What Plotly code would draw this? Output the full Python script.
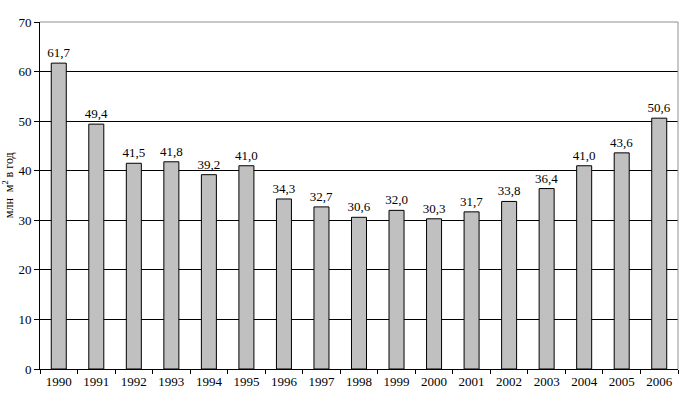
import plotly.graph_objects as go

years = ["1990", "1991", "1992", "1993", "1994", "1995", "1996", "1997", "1998",
         "1999", "2000", "2001", "2002", "2003", "2004", "2005", "2006"]
values = [61.7, 49.4, 41.5, 41.8, 39.2, 41.0, 34.3, 32.7, 30.6,
          32.0, 30.3, 31.7, 33.8, 36.4, 41.0, 43.6, 50.6]
labels = [f"{v:.1f}".replace(".", ",") for v in values]

font = "Liberation Serif"

fig = go.Figure(go.Bar(
    x=years, y=values, text=labels, textposition="outside",
    textfont=dict(family=font, size=13, color="black"),
    constraintext="none",
    marker=dict(color="#c0c0c0", line=dict(color="black", width=1)),
    width=0.4, cliponaxis=False,
))

fig.update_layout(
    width=685, height=393,
    margin=dict(l=40, r=7, t=22, b=24, autoexpand=False),
    paper_bgcolor="white", plot_bgcolor="white",
    showlegend=False,
    font=dict(family=font, size=13, color="black"),
    uniformtext=dict(minsize=13, mode="show"),
    xaxis=dict(
        automargin=False,
        showline=True, linecolor="black", linewidth=1,
        ticks="outside", tickson="boundaries", ticklen=4, tickcolor="black",
        showgrid=False, tickfont=dict(family=font, size=13, color="black"),
    ),
    yaxis=dict(
        automargin=False,
        range=[0, 70], dtick=10, showline=True, linecolor="black", linewidth=1,
        ticks="outside", ticklen=5, tickcolor="black",
        showgrid=True, gridcolor="black", gridwidth=1,
        zeroline=False, tickfont=dict(family=font, size=13, color="black"),
    ),
    annotations=[
        dict(text="млн  м<sup>2</sup> в год", xref="paper", yref="paper",
             x=-0.05, y=0.53, xanchor="center", yanchor="middle", textangle=-90,
             showarrow=False, font=dict(family=font, size=12, color="black")),
    ],
    shapes=[
        dict(type="line", xref="paper", yref="paper", x0=0, x1=1, y0=1, y1=1,
             line=dict(color="#909090", width=1)),
        dict(type="line", xref="paper", yref="paper", x0=1, x1=1, y0=0, y1=1,
             line=dict(color="#909090", width=1)),
    ],
)

fig.write_html(
    "out.html",
    config={"displayModeBar": False},
    post_script="document.body.style.margin='0';document.body.style.overflow='hidden';",
)
